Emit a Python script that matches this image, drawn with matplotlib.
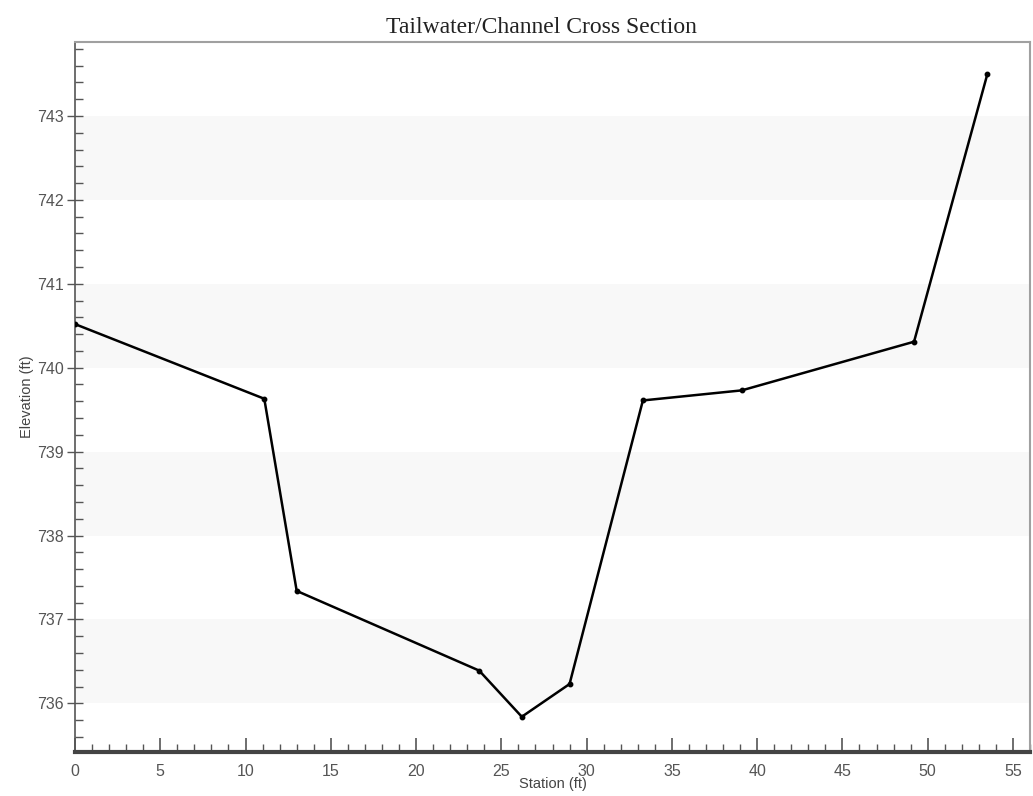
import matplotlib
matplotlib.use("Agg")
import matplotlib.pyplot as plt
from matplotlib.ticker import MultipleLocator

# Cross-section survey points
station_ft = [0.0, 11.1, 13.0, 23.7, 26.2, 29.0, 33.3, 39.1, 49.2, 53.5]
elevation_ft = [740.52, 739.63, 737.34, 736.39, 735.84, 736.23, 739.61, 739.73, 740.31, 743.5]

title = "Tailwater/Channel Cross Section"
x_label = "Station (ft)"
y_label = "Elevation (ft)"
band_starts = [736, 738, 740, 742]

plt.rcParams["font.family"] = ["Liberation Sans", "DejaVu Sans"]

fig = plt.figure(figsize=(10.33, 7.96), dpi=100)
ax = fig.add_axes([0.0726, 0.0553, 0.9245, 0.8917])

ax.set_xlim(0, 56.0)
ax.set_ylim(735.42, 743.88)

# alternating horizontal shading bands
for b in band_starts:
    ax.axhspan(b, b + 1, color="#f8f8f8", zorder=0, lw=0)

ax.plot(station_ft, elevation_ft, color="black", lw=1.8, marker="o",
        markersize=3.2, zorder=3)

ax.xaxis.set_major_locator(MultipleLocator(5))
ax.xaxis.set_minor_locator(MultipleLocator(1))
ax.yaxis.set_major_locator(MultipleLocator(1))
ax.yaxis.set_minor_locator(MultipleLocator(0.2))

ax.tick_params(axis="x", which="major", direction="in", length=10, width=1.2,
               color="#555555", labelcolor="#555555", labelsize=11.5, pad=9)
ax.tick_params(axis="x", which="minor", direction="in", length=6, width=1.0,
               color="#555555")
ax.tick_params(axis="y", which="major", direction="inout", length=12, width=1.0,
               color="#555555", labelcolor="#555555", labelsize=11.5, pad=2)
ax.tick_params(axis="y", which="minor", direction="in", length=6, width=1.0,
               color="#555555")

for side in ("top", "right"):
    ax.spines[side].set_color("#a0a0a0")
    ax.spines[side].set_linewidth(1.5)
ax.spines["left"].set_color("#555555")
ax.spines["left"].set_linewidth(1.2)
ax.spines["bottom"].set_color("#444444")
ax.spines["bottom"].set_linewidth(3)

ax.set_xlabel(x_label, fontsize=10.5, color="#444444", labelpad=-2)
ax.set_ylabel(y_label, fontsize=10.5, color="#444444", labelpad=2)

fig.text(0.524, 0.966, title, ha="center", va="center", fontsize=17,
         family="Liberation Serif", color="#222222")

fig.savefig("out.png", dpi=100)
